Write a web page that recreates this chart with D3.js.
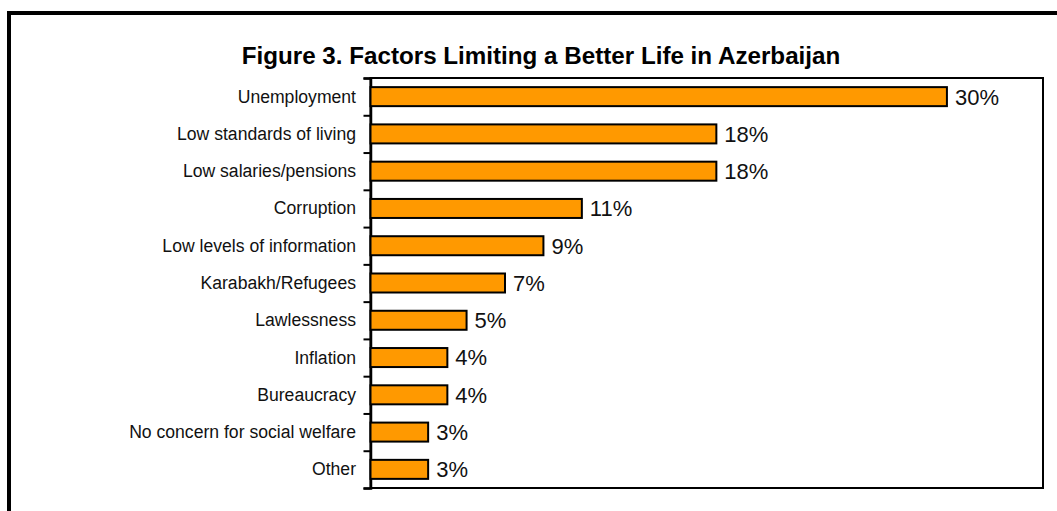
<!DOCTYPE html>
<html>
<head>
<meta charset="utf-8">
<script src="https://cdn.jsdelivr.net/npm/d3@7"></script>
<style>
  html, body { margin: 0; padding: 0; background: #fff; }
  svg { display: block; font-family: Arial, "Liberation Sans", sans-serif; }
</style>
</head>
<body>
<div id="chart"></div>
<script>
const title = "Figure 3. Factors Limiting a Better Life in Azerbaijan";
const factors = [
    "Unemployment",
    "Low standards of living",
    "Low salaries/pensions",
    "Corruption",
    "Low levels of information",
    "Karabakh/Refugees",
    "Lawlessness",
    "Inflation",
    "Bureaucracy",
    "No concern for social welfare",
    "Other"
];
const shares = [30, 18, 18, 11, 9, 7, 5, 4, 4, 3, 3];

const W = 1057, H = 511;
const plot = { left: 370.5, right: 1043, top: 78, bottom: 488 };

const svg = d3.select("#chart")
    .append("svg")
    .attr("width", W)
    .attr("height", H);

// outer frame (runs off the right and bottom edges)
svg.append("rect")
    .attr("x", 9)
    .attr("y", 13)
    .attr("width", W + 20)
    .attr("height", H + 20)
    .style("fill", "none")
    .style("stroke", "#000")
    .style("stroke-width", 4);

svg.append("text")
    .attr("x", 541)
    .attr("y", 64)
    .attr("text-anchor", "middle")
    .style("font-size", "24.2px")
    .style("font-weight", "bold")
    .text(title);

const data = factors.map((f, i) => ({ factor: f, value: shares[i] }));

const x = d3.scaleLinear()
    .domain([0, 35])
    .range([plot.left, plot.right]);

const y = d3.scaleBand()
    .domain(factors)
    .range([plot.top, plot.bottom])
    .paddingInner(0.49)
    .paddingOuter(0.245);

// plot frame
svg.append("rect")
    .attr("x", plot.left)
    .attr("y", plot.top)
    .attr("width", plot.right - plot.left)
    .attr("height", plot.bottom - plot.top)
    .style("fill", "none")
    .style("stroke", "#000")
    .style("stroke-width", 2);

// category tick marks at band boundaries
const tickScale = d3.scaleLinear()
    .domain([0, factors.length])
    .range([plot.top, plot.bottom]);

svg.append("g")
    .attr("transform", `translate(${plot.left},0)`)
    .call(d3.axisLeft(tickScale)
        .tickValues(d3.range(factors.length + 1))
        .tickSize(7)
        .tickFormat(""))
    .call(g => g.select(".domain").style("stroke-width", 2.5))
    .call(g => g.selectAll(".tick line").style("stroke-width", 2));

// category labels
svg.append("g")
    .selectAll("text")
    .data(data)
    .enter()
    .append("text")
    .attr("x", 356)
    .attr("y", d => y(d.factor) + y.bandwidth() / 2)
    .attr("dy", "0.34em")
    .attr("text-anchor", "end")
    .style("font-size", "17.6px")
    .style("fill", "#111")
    .text(d => d.factor);

svg.selectAll(".bar")
    .data(data)
    .enter()
    .append("rect")
    .attr("class", "bar")
    .attr("x", x(0))
    .attr("y", d => y(d.factor))
    .attr("width", d => x(d.value) - x(0))
    .attr("height", y.bandwidth())
    .style("fill", "#FF9900")
    .style("stroke", "#000")
    .style("stroke-width", 2);

svg.selectAll(".val")
    .data(data)
    .enter()
    .append("text")
    .attr("class", "val")
    .attr("x", d => x(d.value) + 8)
    .attr("y", d => y(d.factor) + y.bandwidth() / 2)
    .attr("dy", "0.36em")
    .style("font-size", "22px")
    .style("fill", "#111")
    .text(d => d.value + "%");
</script>
</body>
</html>
